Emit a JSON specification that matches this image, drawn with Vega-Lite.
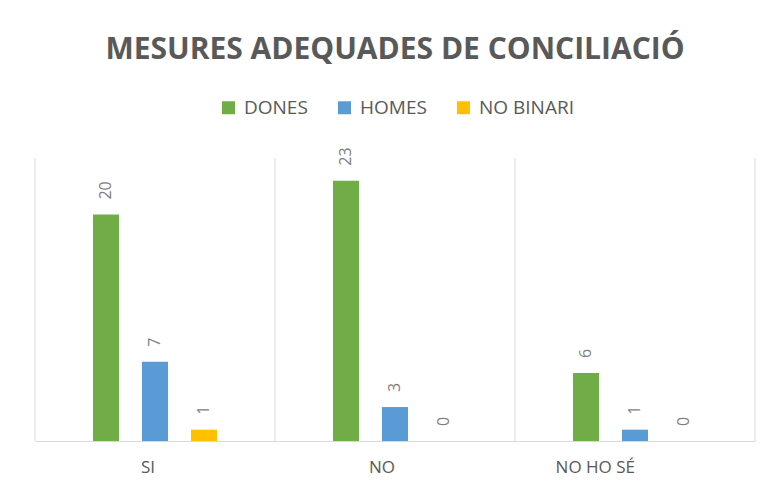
{
  "$schema": "https://vega.github.io/schema/vega-lite/v6.json",
  "width": 720,
  "height": 283,
  "autosize": {"type": "none"},
  "padding": {"left": 35, "top": 158, "right": 21, "bottom": 57},
  "background": "white",
  "title": {
    "text": "MESURES ADEQUADES DE CONCILIACIÓ",
    "font": "Open Sans",
    "fontSize": 30,
    "fontWeight": "bold",
    "color": "#595959",
    "anchor": "middle",
    "offset": 33
  },
  "config": {"view": {"stroke": null}},
  "data": {
    "values": [
      {"cat": "SI", "grup": "DONES", "valor": 20},
      {"cat": "SI", "grup": "HOMES", "valor": 7},
      {"cat": "SI", "grup": "NO BINARI", "valor": 1},
      {"cat": "NO", "grup": "DONES", "valor": 23},
      {"cat": "NO", "grup": "HOMES", "valor": 3},
      {"cat": "NO", "grup": "NO BINARI", "valor": 0},
      {"cat": "NO HO SÉ", "grup": "DONES", "valor": 6},
      {"cat": "NO HO SÉ", "grup": "HOMES", "valor": 1},
      {"cat": "NO HO SÉ", "grup": "NO BINARI", "valor": 0}
    ]
  },
  "layer": [
    {
      "transform": [{"filter": "datum.grup === 'DONES'"}],
      "mark": {"type": "rule", "color": "#D9D9D9", "strokeWidth": 1},
      "encoding": {
        "x": {"field": "cat", "type": "nominal", "sort": ["SI", "NO", "NO HO SÉ"], "bandPosition": 0}
      }
    },
    {
      "transform": [{"filter": "datum.grup === 'DONES' && datum.cat === 'NO HO SÉ'"}],
      "mark": {"type": "rule", "color": "#D9D9D9", "strokeWidth": 1},
      "encoding": {
        "x": {"field": "cat", "type": "nominal", "sort": ["SI", "NO", "NO HO SÉ"], "bandPosition": 1}
      }
    },
    {
      "mark": {"type": "bar"},
      "encoding": {
        "x": {
          "field": "cat", "type": "nominal", "sort": ["SI", "NO", "NO HO SÉ"],
          "scale": {"paddingInner": 0, "paddingOuter": 0},
          "axis": {
            "title": null, "domainColor": "#D9D9D9", "ticks": false, "labelAngle": 0,
            "labelFont": "Open Sans", "labelFontSize": 17, "labelColor": "#595959",
            "labelPadding": 26, "grid": false
          }
        },
        "xOffset": {
          "field": "grup", "type": "nominal",
          "scale": {"domain": ["_a", "DONES", "HOMES", "NO BINARI", "_b"], "paddingInner": 0.469, "paddingOuter": 0.183}
        },
        "y": {"field": "valor", "type": "quantitative", "scale": {"domain": [0, 25], "nice": false}, "axis": null},
        "color": {
          "field": "grup", "type": "nominal",
          "scale": {"domain": ["DONES", "HOMES", "NO BINARI"], "range": ["#70AD47", "#5B9BD5", "#FFC000"]},
          "legend": {
            "orient": "none", "legendX": 184, "legendY": -60, "direction": "horizontal", "title": null,
            "symbolType": "square", "symbolSize": 169, "symbolStrokeWidth": 0, "symbolOpacity": 1,
            "labelFont": "Open Sans", "labelFontSize": 19, "labelColor": "#595959",
            "columnPadding": 27, "labelOffset": 6
          }
        }
      }
    },
    {
      "mark": {
        "type": "text", "angle": 270, "align": "left", "baseline": "middle", "dx": 15,
        "font": "Open Sans", "fontSize": 16, "color": "#7F7F7F"
      },
      "encoding": {
        "x": {"field": "cat", "type": "nominal", "sort": ["SI", "NO", "NO HO SÉ"]},
        "xOffset": {"field": "grup", "type": "nominal"},
        "y": {"field": "valor", "type": "quantitative"},
        "text": {"field": "valor", "type": "quantitative"}
      }
    }
  ]
}
